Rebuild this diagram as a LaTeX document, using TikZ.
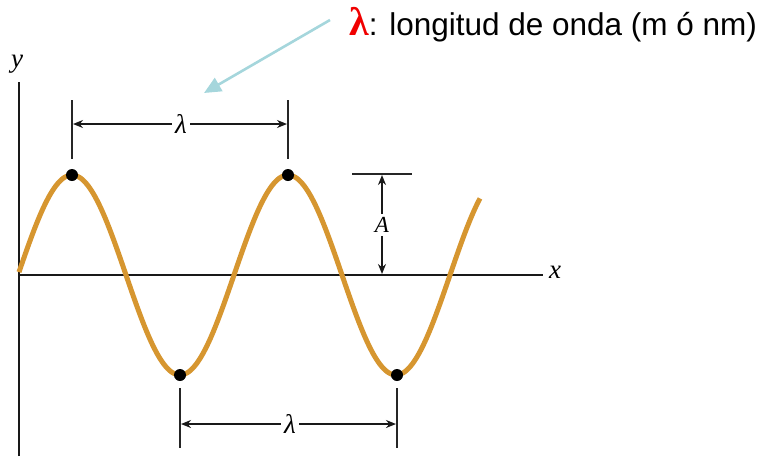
\documentclass[tikz,border=0pt]{standalone}
\usepackage{fontspec}
\setmainfont{Liberation Sans}
\newfontfamily\tms{Liberation Serif}
\usetikzlibrary{arrows.meta}
\definecolor{wavecol}{RGB}{214,150,48}
\definecolor{pointer}{RGB}{165,214,220}
\definecolor{lamred}{RGB}{240,0,0}
\tikzset{
  axisline/.style={line width=2.6pt, black!90},
  tickline/.style={line width=2.2pt, black!85},
  dimarrow/.style={line width=1.8pt, black!90, -{Stealth[length=10pt,width=8pt]}},
  dotnode/.style={circle, fill=black, inner sep=0pt, minimum size=12pt},
  lbl/.style={font=\tms\itshape\fontsize{27}{29}\selectfont, inner sep=1pt},
  albl/.style={font=\tms\itshape\fontsize{23}{25}\selectfont, inner sep=1pt}
}
\begin{document}
\begin{tikzpicture}[x=1pt,y=-1pt]
\useasboundingbox (0,0) rectangle (763,459);
% axes
\coordinate (yb) at (19,456);
\coordinate (yt) at (19,82);
\coordinate (xl) at (19,275);
\coordinate (xr) at (543,275);
\draw[axisline] (yb) -- (yt);
\draw[axisline] (xl) -- (xr);
\node[lbl] (ylab) at (17,64) {y};
\node[lbl] (xlab) at (555,272) {x};
% wave
\draw[wavecol, line width=5pt] plot[domain=19:480, samples=240, smooth] (\x, {275-100*cos((\x-72)/216*360)});
% dots
\node[dotnode] (p1) at (72,175) {};
\node[dotnode] (p2) at (288,175) {};
\node[dotnode] (t1) at (180,375) {};
\node[dotnode] (t2) at (397,375) {};
% top lambda bracket
\coordinate (p1a) at (72,100); \coordinate (p1b) at (72,159);
\coordinate (p2a) at (288,100); \coordinate (p2b) at (288,159);
\draw[tickline] (p1a) -- (p1b);
\draw[tickline] (p2a) -- (p2b);
\node[lbl, inner sep=3pt] (lt) at (181,124) {λ};
\draw[dimarrow] (lt.west) -- (73,124);
\draw[dimarrow] (lt.east) -- (287,124);
% bottom lambda bracket
\coordinate (t1a) at (180,388); \coordinate (t1b) at (180,448);
\coordinate (t2a) at (397,388); \coordinate (t2b) at (397,448);
\draw[tickline] (t1a) -- (t1b);
\draw[tickline] (t2a) -- (t2b);
\node[lbl, inner sep=3pt] (lb) at (290,424) {λ};
\draw[dimarrow] (lb.west) -- (181,424);
\draw[dimarrow] (lb.east) -- (396,424);
% amplitude
\coordinate (al) at (352,174); \coordinate (ar) at (412,174);
\draw[tickline] (al) -- (ar);
\node[albl, inner sep=3pt] (amp) at (382,225) {A};
\draw[dimarrow] (amp.north) -- (382,175);
\draw[dimarrow] (amp.south) -- (382,274);
% legend text and pointer
\node[anchor=base west, inner sep=0pt] (legend) at (349,35)
  {{\color{lamred}\tms\bfseries\fontsize{40}{40}\selectfont λ}\fontsize{31.5}{34}\selectfont: longitud de onda (m ó nm)};
\coordinate (ps) at (330,20);
\coordinate (pe) at (204,93);
\draw[pointer, line width=2.6pt, -{Triangle[length=17pt,width=15pt]}] (ps) -- (pe);
\end{tikzpicture}
\end{document}
